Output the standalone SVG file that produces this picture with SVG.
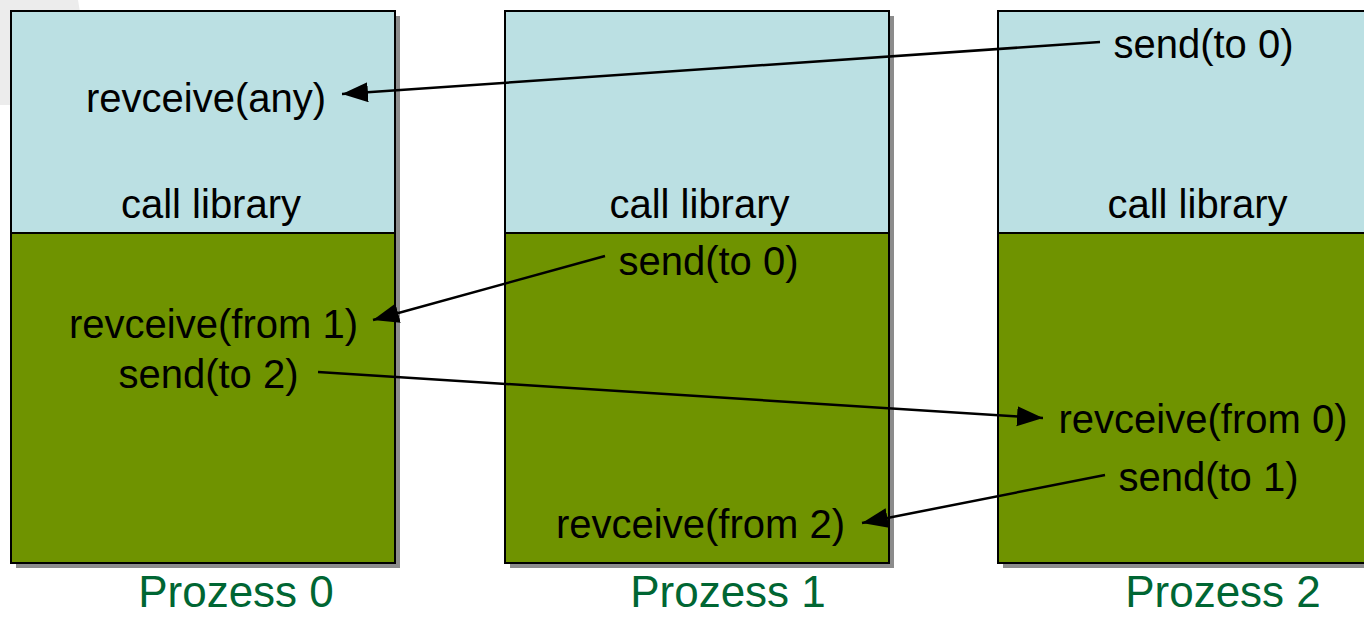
<svg xmlns="http://www.w3.org/2000/svg" width="1364" height="617" viewBox="0 0 1364 617">
<style>
.top{fill:#bbe0e3;stroke:#000;stroke-width:2}
.bot{fill:#6f9300;stroke:#000;stroke-width:2}
.sh{fill:#8c8c8c}
.t{font-family:"Liberation Sans",Arial,sans-serif;font-size:40px;fill:#000;text-anchor:middle}
.p{font-family:"Liberation Sans",Arial,sans-serif;font-size:44px;fill:#006633;text-anchor:middle}
.c{stroke:#000;stroke-width:2.5;fill:none;marker-end:url(#ah)}
</style>
<defs>
<marker id="ah" markerUnits="userSpaceOnUse" markerWidth="28" markerHeight="22" refX="26" refY="10" orient="auto">
<path d="M0,0 L26,10 L0,20 Z" fill="#000"/>
</marker>
</defs>
<rect width="1364" height="617" fill="#fff"/>
<polygon points="0,0 78,0 95,105 0,105" fill="#ececec"/>
<g id="p0">
<rect class="sh" x="16" y="16" width="384" height="552"/>
<rect class="top" x="11" y="11" width="384" height="222"/>
<rect class="bot" x="11" y="233" width="384" height="330"/>
<text class="t" x="206" y="112">revceive(any)</text>
<text class="t" x="211" y="218">call library</text>
<text class="t" x="213.5" y="338">revceive(from 1)</text>
<text class="t" x="208.5" y="388">send(to 2)</text>
<text class="p" x="236" y="607">Prozess 0</text>
</g>
<g id="p1">
<rect class="sh" x="510" y="16" width="384" height="552"/>
<rect class="top" x="505" y="11" width="384" height="222"/>
<rect class="bot" x="505" y="233" width="384" height="330"/>
<text class="t" x="699.5" y="218">call library</text>
<text class="t" x="708.5" y="275">send(to 0)</text>
<text class="t" x="700.5" y="538">revceive(from 2)</text>
<text class="p" x="728" y="607">Prozess 1</text>
</g>
<g id="p2">
<rect class="sh" x="1003" y="16" width="384" height="552"/>
<rect class="top" x="998" y="11" width="384" height="222"/>
<rect class="bot" x="998" y="233" width="384" height="330"/>
<text class="t" x="1203.5" y="58">send(to 0)</text>
<text class="t" x="1197.5" y="218">call library</text>
<text class="t" x="1203" y="433">revceive(from 0)</text>
<text class="t" x="1208.5" y="491">send(to 1)</text>
<text class="p" x="1223" y="607">Prozess 2</text>
</g>
<g id="connectors">
<line class="c" x1="1100" y1="42" x2="342" y2="94"/>
<line class="c" x1="605" y1="256" x2="373" y2="320"/>
<line class="c" x1="318" y1="372" x2="1043" y2="418"/>
<line class="c" x1="1105" y1="475" x2="862" y2="523"/>
</g>
</svg>
